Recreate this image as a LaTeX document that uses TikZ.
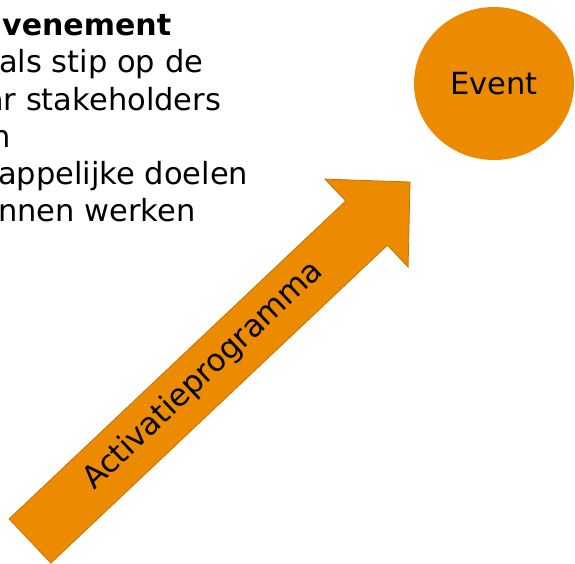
\documentclass[tikz,border=0pt]{standalone}
\usepackage{fontspec}
\setmainfont{DejaVu Sans}
\usepackage{xcolor}
\usetikzlibrary{shapes.geometric}

\definecolor{oranje}{HTML}{EC8B00}
\definecolor{oranjerand}{HTML}{C47300}

\tikzset{
  regel/.style={anchor=base west,inner sep=0pt,font=\fontsize{30.5}{36}\selectfont,text=black},
}

\begin{document}
\begin{tikzpicture}[x=1pt,y=1pt]
\useasboundingbox (0,0) rectangle (575,-563);
\clip (0,0) rectangle (575,-563);

% tekstblok linksboven (valt deels buiten beeld)
\node[regel,font=\fontsize{30}{36}\selectfont\bfseries] (titel) at (2,-35) {venement};
\foreach \y/\x/\tekst [count=\i] in {72/-1/als stip op de,110/-15/ar stakeholders,147/-9/n,184.5/-2/appelijke doelen,221.5/-2/nnen werken} {
  \node[regel] (regel\i) at (\x,-\y) {\tekst};
}

% Event (rechtsboven)
\node[ellipse,fill=oranje,minimum width=160,minimum height=153,inner sep=0pt,
      font=\fontsize{30.5}{36}\selectfont] (event) at (494,-83.5) {Event};

% pijl
\begin{scope}[shift={(30,-541)},rotate=43.37]
  \draw[fill=oranje,draw=oranjerand,line width=0.8pt,line join=miter]
    (0,-30.4) -- (463,-30.4) -- (463,-60.5) -- (522.8,0) -- (463,60.5) -- (463,30.4) -- (0,30.4) -- cycle;
  \node[rotate=43.37,font=\fontsize{31}{36}\selectfont] (programma) at (239.5,1) {Activatieprogramma};
\end{scope}
\end{tikzpicture}
\end{document}
